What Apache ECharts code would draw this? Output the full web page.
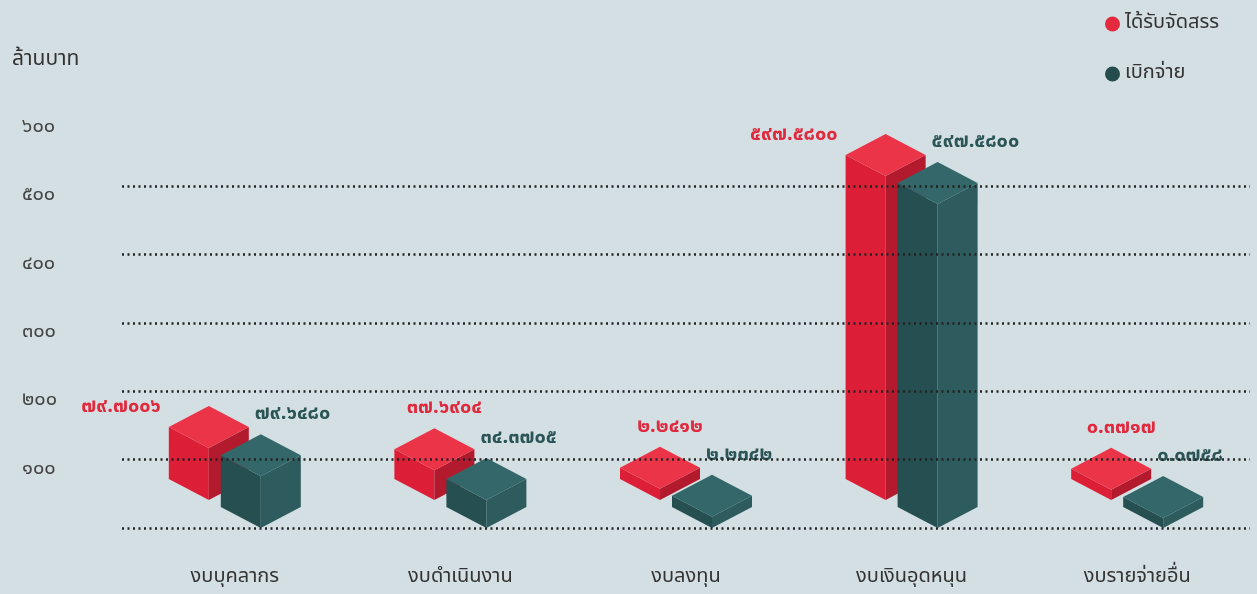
<!DOCTYPE html>
<html>
<head>
<meta charset="utf-8">
<script src="https://cdn.jsdelivr.net/npm/echarts@6/dist/echarts.min.js"></script>
<style>
  html, body { margin: 0; padding: 0; background: #d3dfe2; }
  #chart { width: 1257px; height: 594px; }
</style>
</head>
<body>
<div id="chart"></div>
<script>
// budget categories (ล้านบาท)
const categories = ['งบบุคลากร', 'งบดำเนินงาน', 'งบลงทุน', 'งบเงินอุดหนุน', 'งบรายจ่ายอื่น']
const allocated = [79.7006, 37.6904, 2.2412, 597.58, 0.3717]
const disbursed = [79.648, 34.3705, 2.2342, 597.58, 0.0758]
const seriesNames = ['ได้รับจัดสรร', 'เบิกจ่าย']
const gridValues = [0, 100, 200, 300, 400, 500]

const FONT = "'Noto Sans Thai', 'Noto Sans', 'DejaVu Sans', sans-serif"
const thaiDigits = '๐๑๒๓๔๕๖๗๘๙'
const toThai = (s) => String(s).replace(/[0-9]/g, (d) => thaiDigits[+d])

const RED = { top: '#ec3448', left: '#dc1f36', right: '#b31a2d', text: '#e0293d' }
const GREEN = { top: '#336769', left: '#264f51', right: '#2e5c5e', text: '#2b5456' }

// isometric box: A = half width, B = half diamond height, MIN_T = min thickness
const A = 40, B = 21, MIN_T = 10
const PAIR_DX = 26, BACK_DY = -28

const makeRender = (pal, isBack) => (params, api) => {
  const idx = api.value(0)
  const val = api.value(1)
  const base = api.coord([idx, 0])
  const top = api.coord([idx, val])
  const x = isBack ? base[0] - PAIR_DX : base[0] + PAIR_DX
  const y0 = isBack ? base[1] + BACK_DY : base[1]
  const h = MIN_T + (base[1] - top[1])
  const fy = y0 - h
  const ty = fy - 2 * B
  const children = [
    { type: 'polygon', shape: { points: [[x - A, fy - B], [x, fy], [x, y0], [x - A, y0 - B]] }, style: { fill: pal.left } },
    { type: 'polygon', shape: { points: [[x, fy], [x + A, fy - B], [x + A, y0 - B], [x, y0]] }, style: { fill: pal.right } },
    { type: 'polygon', shape: { points: [[x, fy], [x - A, fy - B], [x, ty], [x + A, fy - B]] }, style: { fill: pal.top } }
  ]
  let tx, tyL, align
  if (isBack) {
    if (val > 50) { tx = x - A - 8; tyL = ty + 2; align = 'right' }
    else { tx = x + 10; tyL = ty - 19; align = 'center' }
  } else {
    tx = x - 6; tyL = ty - 19; align = 'left'
  }
  children.push({
    type: 'text',
    style: {
      x: tx, y: tyL, text: toThai(val.toFixed(4)), align: align, verticalAlign: 'middle',
      fill: pal.text, font: 'bold 20px ' + FONT
    }
  })
  return { type: 'group', children: children }
}

const chart = echarts.init(document.getElementById('chart'))

const option = {
  backgroundColor: '#d3dfe2',
  animation: false,
  textStyle: { fontFamily: FONT },
  title: {
    text: 'ล้านบาท',
    left: 7,
    top: 45,
    textStyle: { fontSize: 21, fontWeight: 'normal', color: '#333', fontFamily: FONT }
  },
  legend: {
    data: seriesNames,
    orient: 'vertical',
    left: 1100,
    top: 9,
    itemGap: 30,
    icon: 'circle',
    itemWidth: 15,
    itemHeight: 15,
    textStyle: { fontSize: 20, color: '#333', fontFamily: FONT }
  },
  grid: { left: 122, right: 7, top: 118, bottom: 66 },
  xAxis: {
    type: 'category',
    data: categories,
    axisLine: { show: false },
    axisTick: { show: false },
    axisLabel: { margin: 40, fontSize: 20, color: '#333', fontFamily: FONT }
  },
  yAxis: [
    {
      type: 'value',
      min: 0,
      max: 600,
      interval: 100,
      splitLine: { show: false },
      axisLine: { show: false },
      axisTick: { show: false },
      axisLabel: {
        margin: 100,
        align: 'left',
        verticalAlign: 'top',
        fontSize: 20,
        color: '#444',
        fontFamily: FONT,
        formatter: (v) => (v === 0 ? '' : toThai(v))
      }
    },
    { type: 'value', min: 0, max: 780, show: false }
  ],
  series: [
    {
      name: 'grid',
      type: 'line',
      data: [],
      yAxisIndex: 0,
      markLine: {
        silent: true,
        symbol: 'none',
        label: { show: false },
        lineStyle: { color: '#222', width: 2.5, type: [2, 3.5] },
        data: gridValues.map((v) => ({ yAxis: v }))
      }
    },
    {
      name: seriesNames[0],
      type: 'custom',
      yAxisIndex: 1,
      itemStyle: { color: '#e52a3f' },
      renderItem: makeRender(RED, true),
      data: allocated.map((v, i) => [i, v])
    },
    {
      name: seriesNames[1],
      type: 'custom',
      yAxisIndex: 1,
      itemStyle: { color: '#244c4d' },
      renderItem: makeRender(GREEN, false),
      data: disbursed.map((v, i) => [i, v])
    }
  ]
}

chart.setOption(option)
</script>
</body>
</html>
